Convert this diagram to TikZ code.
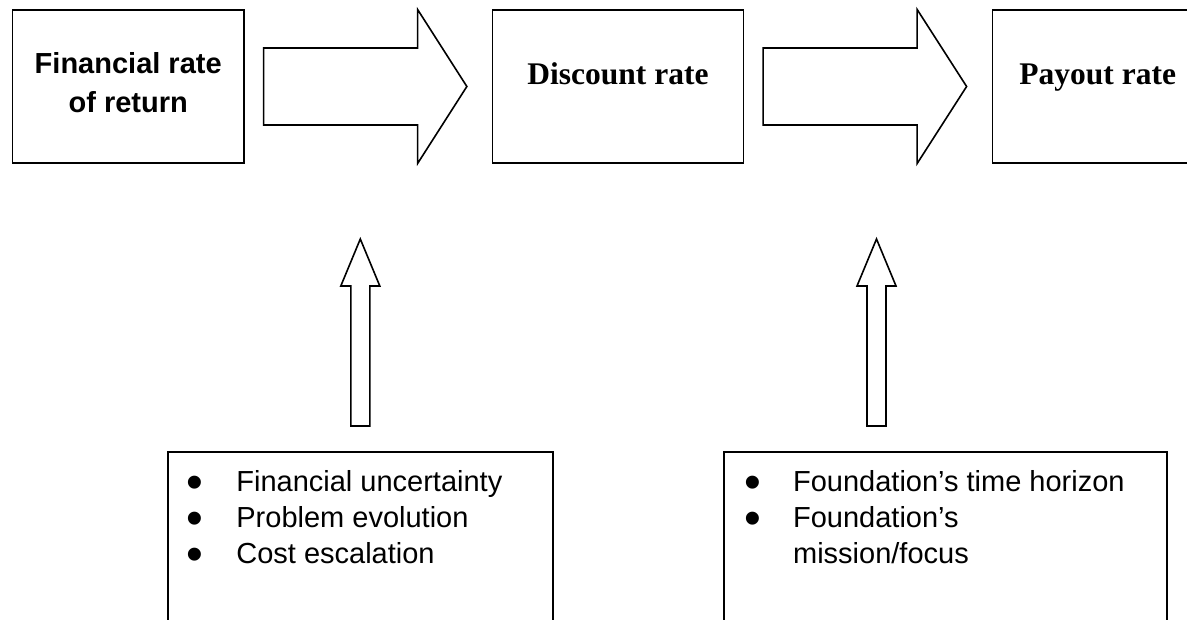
\documentclass[tikz,border=0pt]{standalone}
\usepackage{fontspec}
\setmainfont{Liberation Serif}
\setsansfont{Liberation Sans}
\usetikzlibrary{calc}

\newcommand\factordot{\raisebox{-3.6pt}[0pt][0pt]{\scalebox{1.65}{•}}}

\tikzset{
  ratebox/.style = {draw, line width=0.8pt, inner sep=0pt, minimum height=76.5pt,
    text height=37.5pt, text depth=39pt, font=\fontsize{15.75}{19}\selectfont\bfseries},
  factorbox/.style = {draw, line width=0.8pt, anchor=north west, minimum height=110pt},
  factorlist/.style = {anchor=base west, inner sep=0pt,
    font=\fontsize{14.5}{18}\selectfont\sffamily},
  blockarrow/.style = {draw, line width=0.8pt, line join=miter},
}

\begin{document}
\begin{tikzpicture}[x=0.5pt, y=-0.5pt]
\useasboundingbox (0,0) rectangle (1187,620);

% the three rates
\node[ratebox, minimum width=115.6pt, text height=51.5pt, text depth=25pt,
  font=\fontsize{14.5}{19.5}\selectfont\sffamily\bfseries] (fin) at (128.2,86.5)
  {\begin{tabular}[b]{@{}c@{}}Financial rate\\of return\end{tabular}};
\node[ratebox, minimum width=125.35pt] (disc) at (618,86.5) {Discount rate};
\node[ratebox, minimum width=105.3pt] (pay) at (1097.7,86.5) {Payout rate};

% hollow arrows between them
\draw[blockarrow] ($(fin.east)+(19,-38.5)$) -- ++(154,0) -- ++(0,-38.5)
  -- ($(disc.west)+(-25,0)$) -- ($(fin.east)+(173,77)$) -- ++(0,-38.5) -- ++(-154,0) -- cycle;
\draw[blockarrow] ($(disc.east)+(19,-38.5)$) -- ++(154,0) -- ++(0,-38.5)
  -- ($(pay.west)+(-25,0)$) -- ($(disc.east)+(173,77)$) -- ++(0,-38.5) -- ++(-154,0) -- cycle;

% what moves the rates
\node[factorbox, minimum width=192.5pt] (risks) at (167,451) {};
\node[factorbox, minimum width=221.5pt] (horizon) at (723,451) {};

\node[factorlist] (risklist) at ($(risks.north west)+(19,40)$)
  {\begin{tabular}[t]{@{}p{25pt}@{}l@{}}
   \factordot & Financial uncertainty\\
   \factordot & Problem evolution\\
   \factordot & Cost escalation
   \end{tabular}};
\node[factorlist] (horizonlist) at ($(horizon.north west)+(20.7,40)$)
  {\begin{tabular}[t]{@{}p{24.5pt}@{}l@{}}
   \factordot & Foundation’s time horizon\\
   \factordot & Foundation’s\\
              & mission/focus
   \end{tabular}};

% upward arrows
\draw[blockarrow] ($(risks.north)+(-9.5,-25)$) -- ++(0,-140) -- ++(-10,0) -- ++(19.5,-47)
  -- ++(19.5,47) -- ++(-10,0) -- ++(0,140) -- cycle;
\draw[blockarrow] ($(horizon.north west)+(144,-25)$) -- ++(0,-140) -- ++(-10,0) -- ++(19.5,-47)
  -- ++(19.5,47) -- ++(-10,0) -- ++(0,140) -- cycle;
\end{tikzpicture}
\end{document}
